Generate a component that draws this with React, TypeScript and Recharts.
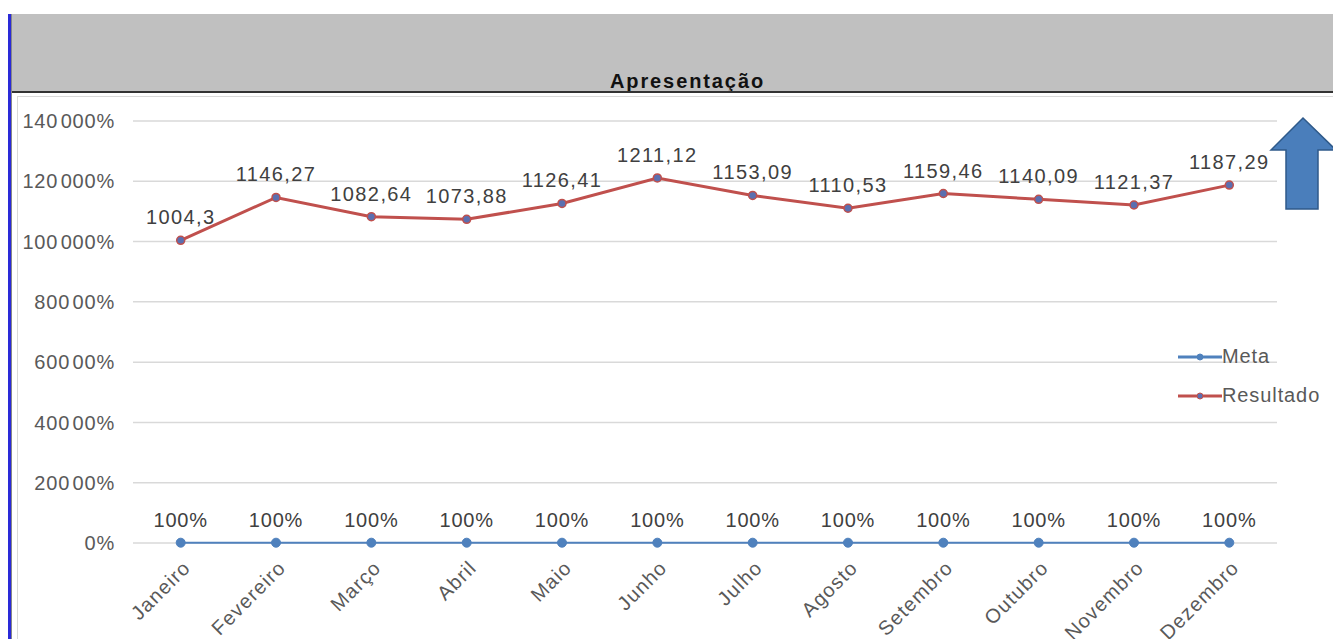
import React from "react";
import { CartesianGrid, Line, LineChart, XAxis, YAxis } from "recharts";

const months = [
  "Janeiro",
  "Fevereiro",
  "Março",
  "Abril",
  "Maio",
  "Junho",
  "Julho",
  "Agosto",
  "Setembro",
  "Outubro",
  "Novembro",
  "Dezembro",
];

const meta = [1, 1, 1, 1, 1, 1, 1, 1, 1, 1, 1, 1];

const resultado = [
  1004.3, 1146.27, 1082.64, 1073.88, 1126.41, 1211.12, 1153.09, 1110.53,
  1159.46, 1140.09, 1121.37, 1187.29,
];

const yTicks = [0, 200, 400, 600, 800, 1000, 1200, 1400];

const legendItems = [
  { name: "Meta", color: "#4f81bd", dot: "#4f81bd" },
  { name: "Resultado", color: "#c0504d", dot: "#5b6fb0" },
];

const data = months.map((m, i) => ({
  month: m,
  Meta: meta[i],
  Resultado: resultado[i],
}));

const FONT = "'Liberation Sans', Arial, sans-serif";
const TXT = "#404040";

// excel renders the big percentages with a small gap after the 3rd digit
function percentLabel(v: number) {
  const s = String(Math.round(v * 100));
  if (s.length >= 5) return s.slice(0, 3) + "\u200a" + s.slice(3) + "%";
  return s + "%";
}

function MonthTick(props: any) {
  const { x, y, payload } = props;
  const tx = x + 11;
  const ty = y + 18;
  return (
    <text
      x={tx}
      y={ty}
      textAnchor="end"
      fontSize={20}
      letterSpacing={1.2}
      fill="#595959"
      fontFamily={FONT}
      transform={`rotate(-45, ${tx}, ${ty})`}
    >
      {payload.value}
    </text>
  );
}

function ValueLabel(props: any) {
  const { x, y, value, percent } = props;
  const txt = percent
    ? Math.round(value * 100) + "%"
    : String(value).replace(".", ",");
  return (
    <text
      x={x}
      y={y - 16}
      textAnchor="middle"
      fontSize={20}
      letterSpacing={percent ? 0.8 : 1.4}
      fill={TXT}
      fontFamily={FONT}
    >
      {txt}
    </text>
  );
}

export default function App() {
  return (
    <div
      style={{
        position: "absolute",
        left: 0,
        top: 0,
        width: 1333,
        height: 639,
        background: "#fff",
        overflow: "hidden",
        fontFamily: FONT,
      }}
    >
      <div
        style={{
          position: "absolute",
          left: 10,
          top: 14,
          width: 1323,
          height: 78,
          background: "#c0c0c0",
        }}
      />
      <div
        style={{
          position: "absolute",
          left: 10,
          top: 70,
          width: 1323,
          textAlign: "center",
          paddingLeft: 16,
          fontSize: 20,
          letterSpacing: 1.9,
          fontWeight: "bold",
          color: "#111",
          lineHeight: "22px",
        }}
      >
        Apresentação
      </div>
      <div
        style={{
          position: "absolute",
          left: 10,
          top: 91,
          width: 1323,
          height: 2,
          background: "#333",
        }}
      />
      <div
        style={{
          position: "absolute",
          left: 8,
          top: 14,
          width: 3,
          height: 625,
          background: "#2a2ad8",
        }}
      />
      <div
        style={{
          position: "absolute",
          left: 11,
          top: 14,
          width: 1,
          height: 625,
          background: "#888",
        }}
      />
      <div
        style={{
          position: "absolute",
          left: 17,
          top: 96,
          width: 1330,
          height: 560,
          border: "1px solid #d9d9d9",
        }}
      />
      <div style={{ position: "absolute", left: 0, top: 0 }}>
        <LineChart
          width={1333}
          height={639}
          data={data}
          margin={{ top: 121, right: 56, bottom: 16, left: 0 }}
        >
          <CartesianGrid vertical={false} stroke="#d9d9d9" strokeWidth={1.5} />
          <XAxis
            dataKey="month"
            interval={0}
            height={80}
            padding={{ left: 47.7, right: 47.7 }}
            tickLine={false}
            axisLine={false}
            tick={<MonthTick />}
          />
          <YAxis
            width={133}
            domain={[0, 1400]}
            ticks={yTicks}
            tickFormatter={percentLabel}
            tickLine={false}
            axisLine={false}
            tickMargin={12}
            tick={{
              fontSize: 20,
              fill: "#595959",
              fontFamily: FONT,
              letterSpacing: 0.8,
            }}
          />
          <Line
            dataKey="Meta"
            stroke="#4f81bd"
            strokeWidth={2}
            dot={{ r: 4.5, fill: "#4f81bd", stroke: "#4f81bd", strokeWidth: 1 }}
            label={<ValueLabel percent />}
            isAnimationActive={false}
          />
          <Line
            dataKey="Resultado"
            stroke="#c0504d"
            strokeWidth={3}
            dot={{ r: 4, fill: "#5b6fb0", stroke: "#c0504d", strokeWidth: 1.5 }}
            label={<ValueLabel />}
            isAnimationActive={false}
          />
        </LineChart>
      </div>
      <div style={{ position: "absolute", left: 1178, top: 337 }}>
        {legendItems.map((it) => (
          <div
            key={it.name}
            style={{
              display: "flex",
              alignItems: "center",
              height: 39,
              fontSize: 20,
              letterSpacing: 0.9,
              color: "#595959",
            }}
          >
            <svg width={44} height={10} style={{ display: "block" }}>
              <line
                x1={0}
                y1={5}
                x2={44}
                y2={5}
                stroke={it.color}
                strokeWidth={3}
              />
              <circle cx={22} cy={5} r={3} fill={it.dot} stroke={it.color} />
            </svg>
            <span>{it.name}</span>
          </div>
        ))}
      </div>
      <svg
        style={{ position: "absolute", left: 0, top: 0 }}
        width={1333}
        height={639}
        pointerEvents="none"
      >
        <polygon
          points="1303,118 1336,150 1318,150 1318,209 1286,209 1286,150 1271,150"
          fill="#4a7ebb"
          stroke="#2f5a8a"
          strokeWidth={1.5}
        />
      </svg>
    </div>
  );
}
